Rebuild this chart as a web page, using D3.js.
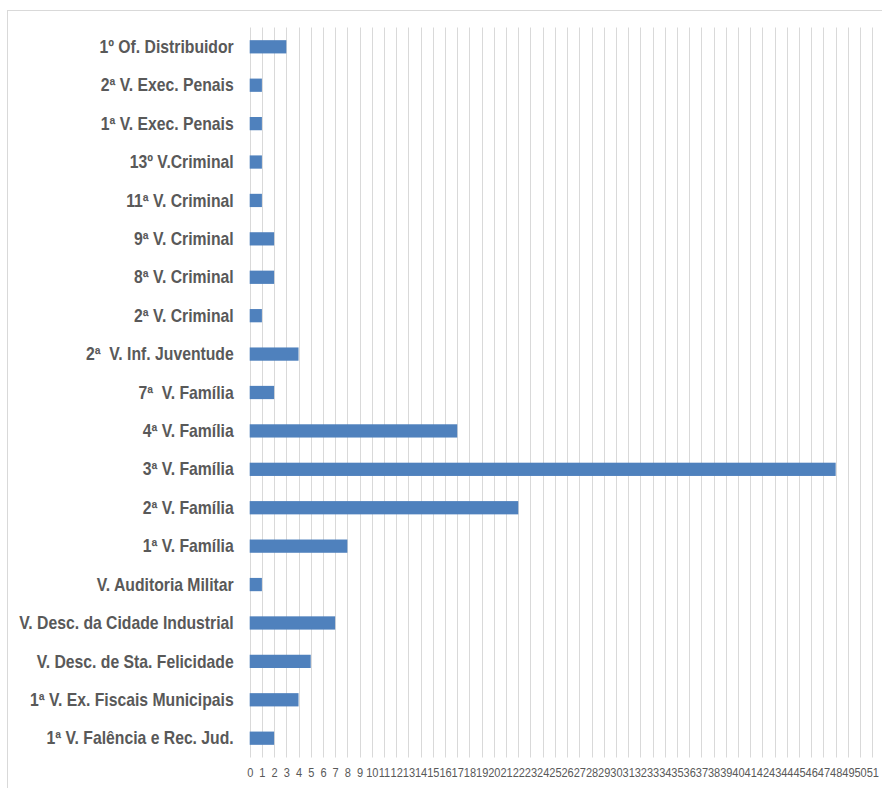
<!DOCTYPE html>
<html>
<head>
<meta charset="utf-8">
<script src="https://cdn.jsdelivr.net/npm/d3@7"></script>
<style>
  html, body { margin: 0; padding: 0; background: #fff; }
  svg { display: block; }
  .cat-labels text { white-space: pre; }
</style>
</head>
<body>
<svg id="chart" width="882" height="788"></svg>
<script>
// Court units (top to bottom) and their counts
const categories = [
  "1º Of. Distribuidor",
  "2ª V. Exec. Penais",
  "1ª V. Exec. Penais",
  "13º V.Criminal",
  "11ª V. Criminal",
  "9ª V. Criminal",
  "8ª V. Criminal",
  "2ª V. Criminal",
  "2ª  V. Inf. Juventude",
  "7ª  V. Família",
  "4ª V. Família",
  "3ª V. Família",
  "2ª V. Família",
  "1ª V. Família",
  "V. Auditoria Militar",
  "V. Desc. da Cidade Industrial",
  "V. Desc. de Sta. Felicidade",
  "1ª V. Ex. Fiscais Municipais",
  "1ª V. Falência e Rec. Jud."
];
const values = [3, 1, 1, 1, 1, 2, 2, 1, 4, 2, 17, 48, 22, 8, 1, 7, 5, 4, 2];
const xTicks = d3.range(0, 52);

const svg = d3.select("#chart");

// outer chart frame
svg.append("rect")
  .attr("x", 7.5).attr("y", 10.5)
  .attr("width", 900).attr("height", 800)
  .attr("fill", "none").attr("stroke", "#d9d9d9").attr("stroke-width", 1);

const plot = { left: 249.7, right: 872.3, top: 27.5, bottom: 757.5 };

const x = d3.scaleLinear().domain([0, 51]).range([plot.left, plot.right]);
const y = d3.scaleBand().domain(categories)
  .range([plot.top, plot.bottom]).paddingInner(0.655).paddingOuter(0.33);

// vertical gridlines
svg.append("g")
  .selectAll("line")
  .data(xTicks)
  .join("line")
  .attr("x1", d => Math.round(x(d)) + 0.5)
  .attr("x2", d => Math.round(x(d)) + 0.5)
  .attr("y1", plot.top).attr("y2", plot.bottom)
  .attr("stroke", "#d9d9d9").attr("stroke-width", 1);

// bars
svg.append("g")
  .selectAll("rect")
  .data(categories)
  .join("rect")
  .attr("x", x(0))
  .attr("y", d => y(d))
  .attr("width", (d, i) => x(values[i]) - x(0))
  .attr("height", y.bandwidth())
  .attr("fill", "#4f81bd");

const narrowFont = "'Liberation Sans Narrow', 'Arial Narrow', 'Liberation Sans', sans-serif";

// category labels (horizontally condensed bold)
const yAxis = svg.append("g")
  .attr("class", "cat-labels")
  .attr("transform", `translate(${x(0) - 16},0)`)
  .call(d3.axisLeft(y).tickSize(0).tickPadding(0));
yAxis.select(".domain").remove();
yAxis.selectAll("text")
  .attr("x", 0)
  .attr("fill", "#595959")
  .attr("font-family", narrowFont)
  .attr("font-weight", "bold")
  .attr("font-size", "17.5px")
  .attr("dy", "0.35em")
  .attr("transform", "scale(0.9,1)");

// value axis labels
const xAxis = svg.append("g")
  .attr("transform", `translate(0,${plot.bottom})`)
  .call(d3.axisBottom(x).tickValues(xTicks).tickFormat(d3.format("d")).tickSize(0).tickPadding(10));
xAxis.select(".domain").remove();
xAxis.selectAll("text")
  .attr("fill", "#595959")
  .attr("font-family", narrowFont)
  .attr("font-size", "13px")
  .attr("transform", "scale(0.85,1)");
</script>
</body>
</html>
